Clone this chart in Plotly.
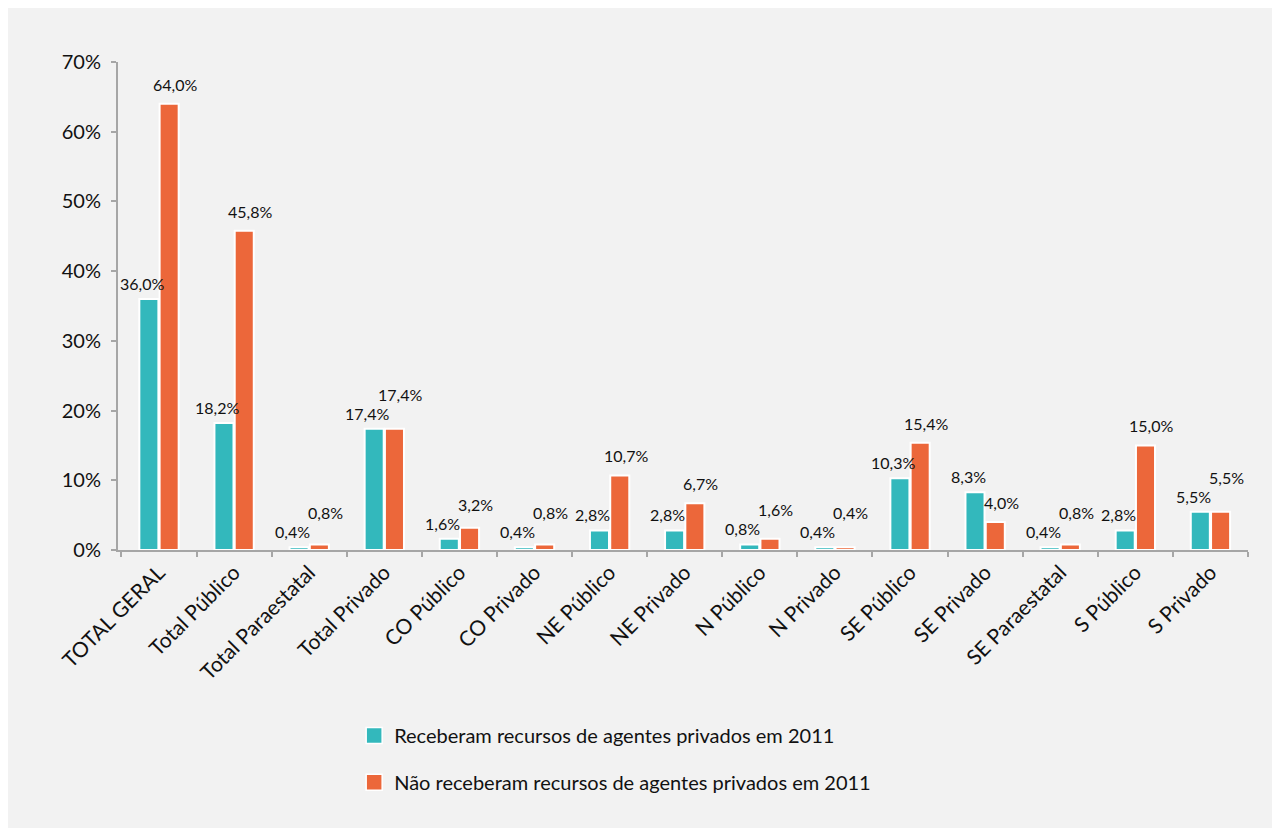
import plotly.graph_objects as go

categories = ["TOTAL GERAL", "Total Público", "Total Paraestatal", "Total Privado",
              "CO Público", "CO Privado", "NE Público", "NE Privado", "N Público",
              "N Privado", "SE Público", "SE Privado", "SE Paraestatal", "S Público",
              "S Privado"]
receberam = [36.0, 18.2, 0.4, 17.4, 1.6, 0.4, 2.8, 2.8, 0.8, 0.4, 10.3, 8.3, 0.4, 2.8, 5.5]
nao_receberam = [64.0, 45.8, 0.8, 17.4, 3.2, 0.8, 10.7, 6.7, 1.6, 0.4, 15.4, 4.0, 0.8, 15.0, 5.5]
y_ticks = [0, 10, 20, 30, 40, 50, 60, 70]

name_a = "Receberam recursos de agentes privados em 2011"
name_b = "Não receberam recursos de agentes privados em 2011"

TEAL = "#33b8bc"
ORANGE = "#ec673a"
FONT = "Lato"
TXT = "#111111"

Y_MAX = 70
PLOT_H = 488  # plot-area height in px
K = PLOT_H / Y_MAX
LBL_H = 18


def fmt(v):
    return f"{v:.1f}%".replace(".", ",")


fig = go.Figure()
fig.add_trace(go.Bar(
    x=categories, y=receberam, name=name_a,
    marker=dict(color=TEAL, line=dict(color="white", width=2)),
    showlegend=False, hoverinfo="skip",
))
fig.add_trace(go.Bar(
    x=categories, y=nao_receberam, name=name_b,
    marker=dict(color=ORANGE, line=dict(color="white", width=2)),
    showlegend=False, hoverinfo="skip",
))
# legend entries with larger square swatches
fig.add_trace(go.Scatter(
    x=[None], y=[None], mode="markers", name=name_a, legend="legend",
    marker=dict(symbol="square", size=16, color=TEAL, line=dict(color="white", width=1.5)),
))
fig.add_trace(go.Scatter(
    x=[None], y=[None], mode="markers", name=name_b, legend="legend2",
    marker=dict(symbol="square", size=16, color=ORANGE, line=dict(color="white", width=1.5)),
))

annotations = []
for cat, a, b in zip(categories, receberam, nao_receberam):
    ys_a = 4
    annotations.append(dict(
        x=cat, y=a, xref="x", yref="y", text=fmt(a), showarrow=False,
        yanchor="bottom", xanchor="center", xshift=-17, yshift=ys_a,
        font=dict(family=FONT, size=16, color=TXT),
    ))
    ys_b = 8
    a_bot, a_top = a * K + ys_a, a * K + ys_a + LBL_H
    b_bot = b * K + ys_b
    if b_bot < a_top and b_bot + LBL_H > a_bot:
        ys_b = a_top - b * K + 1
    annotations.append(dict(
        x=cat, y=b, xref="x", yref="y", text=fmt(b), showarrow=False,
        yanchor="bottom", xanchor="center", xshift=16, yshift=ys_b,
        font=dict(family=FONT, size=16, color=TXT),
    ))

fig.update_layout(
    width=1264, height=820,
    margin=dict(l=110, r=24, t=54, b=278),
    paper_bgcolor="#f2f2f2", plot_bgcolor="#f2f2f2",
    barmode="group", bargap=0.46, bargroupgap=0.06,
    font=dict(family=FONT, color=TXT),
    showlegend=True,
    annotations=annotations,
    legend=dict(x=0.209, y=-0.34, xanchor="left", yanchor="top", itemsizing="trace",
                bgcolor="rgba(0,0,0,0)", font=dict(family=FONT, size=20, color=TXT)),
    legend2=dict(x=0.209, y=-0.436, xanchor="left", yanchor="top", itemsizing="trace",
                 bgcolor="rgba(0,0,0,0)", font=dict(family=FONT, size=20, color=TXT)),
    xaxis=dict(
        showgrid=False, showline=True, linecolor="#a6a6a6", linewidth=2,
        ticks="outside", ticklen=5, tickcolor="#a6a6a6", tickwidth=2,
        tickson="boundaries", tickangle=-45,
        tickfont=dict(family=FONT, size=21, color=TXT),
    ),
    yaxis=dict(
        range=[0, Y_MAX], tickvals=y_ticks, ticktext=[f"{v}%" for v in y_ticks],
        showgrid=False, zeroline=False, showline=True, linecolor="#a6a6a6", linewidth=2,
        ticks="outside", ticklen=5, tickcolor="#a6a6a6", tickwidth=2,
        ticklabelstandoff=6,
        tickfont=dict(family=FONT, size=20, color=TXT),
    ),
)

fig.write_html("out.html")
